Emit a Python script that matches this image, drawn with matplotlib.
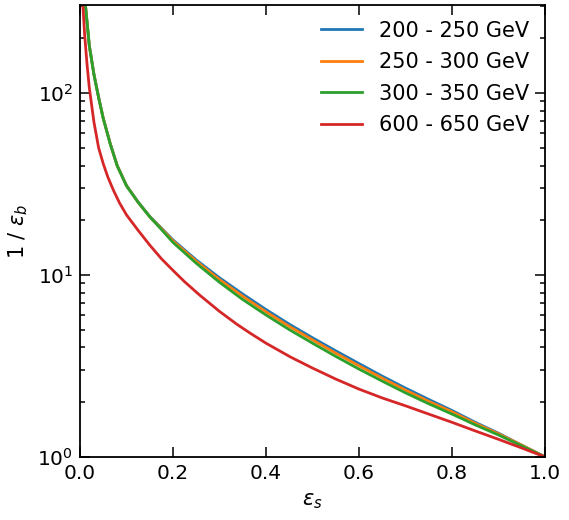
"""ROC curves (inverse background efficiency vs signal efficiency) per pT bin."""

import matplotlib

matplotlib.use("Agg")
import matplotlib.pyplot as plt
from matplotlib.ticker import LogLocator, NullLocator

# signal efficiency grid for the three low-pT bins
eps_s = [0.011, 0.02, 0.03, 0.04, 0.05, 0.065, 0.08, 0.1, 0.125, 0.15, 0.175,
         0.2, 0.25, 0.3, 0.35, 0.4, 0.45, 0.5, 0.55, 0.6, 0.65, 0.7, 0.75,
         0.8, 0.85, 0.9, 0.95, 1.0]

rej_200_250 = [318, 183, 127, 95.0, 72.8, 52.8, 40.0, 31.0, 25.2, 21.0, 18.1,
               15.6, 12.1, 9.66, 7.86, 6.46, 5.37, 4.52, 3.83, 3.26, 2.78,
               2.39, 2.07, 1.80, 1.55, 1.35, 1.16, 1.0]
rej_250_300 = [317, 182.5, 126.5, 94.7, 72.6, 52.7, 39.9, 31.0, 25.1, 20.9,
               18.0, 15.4, 11.9, 9.44, 7.64, 6.28, 5.22, 4.40, 3.72, 3.17,
               2.71, 2.33, 2.02, 1.77, 1.53, 1.34, 1.16, 1.0]
rej_300_350 = [316, 182, 126, 94.4, 72.4, 52.5, 39.8, 30.9, 25.1, 20.9, 17.8,
               15.1, 11.6, 9.12, 7.33, 6.03, 5.01, 4.22, 3.57, 3.04, 2.61,
               2.25, 1.96, 1.72, 1.50, 1.32, 1.15, 1.0]

# the high-pT bin has its own grid
eps_s_600 = [0.006, 0.01, 0.015, 0.02, 0.03, 0.04, 0.05, 0.06, 0.072, 0.085,
             0.1, 0.125, 0.15, 0.175, 0.2, 0.225, 0.258, 0.3, 0.337, 0.366,
             0.4, 0.452, 0.5, 0.55, 0.6, 0.65, 0.7, 0.75, 0.8, 0.85, 0.9,
             0.95, 1.0]
rej_600_650 = [309, 209, 145, 107, 69.2, 50.1, 40.9, 34.5, 29.2, 24.9, 21.4,
               17.6, 14.6, 12.3, 10.6, 9.18, 7.73, 6.31, 5.37, 4.79, 4.22,
               3.55, 3.08, 2.68, 2.36, 2.11, 1.91, 1.72, 1.55, 1.39, 1.25,
               1.12, 1.0]

labels = ["200 - 250 GeV", "250 - 300 GeV", "300 - 350 GeV", "600 - 650 GeV"]
colors = ["#1f77b4", "#ff7f0e", "#2ca02c", "#d62728"]

fig = plt.figure(figsize=(5.69, 5.2), dpi=100)
ax = fig.add_axes([0.1406, 0.1212, 0.8174, 0.8692])

curves = [
    (eps_s, rej_200_250),
    (eps_s, rej_250_300),
    (eps_s, rej_300_350),
    (eps_s_600, rej_600_650),
]
for (xs, ys), label, color in zip(curves, labels, colors):
    ax.plot(xs, ys, color=color, linewidth=2.0, label=label)

ax.set_yscale("log")
ax.set_xlim(0.0, 1.0)
ax.set_ylim(1.0, 305)
ax.xaxis.set_minor_locator(NullLocator())
ax.yaxis.set_minor_locator(LogLocator(base=10, subs=range(2, 10)))

ax.tick_params(which="both", direction="in", top=True, right=True,
               labelsize=14.5, width=1.1, pad=5)
ax.tick_params(which="major", length=7)
ax.tick_params(which="minor", length=3.5)
for spine in ax.spines.values():
    spine.set_linewidth(1.3)

ax.set_xlabel(r"$\epsilon_s$", fontsize=15, labelpad=6)
ax.set_ylabel(r"1 / $\epsilon_b$", fontsize=15, labelpad=5)

ax.legend(loc="upper right", frameon=False, fontsize=15,
          handlelength=2.0, labelspacing=0.55, borderaxespad=0.35)

fig.savefig("out.png", dpi=100)
plt.close(fig)
